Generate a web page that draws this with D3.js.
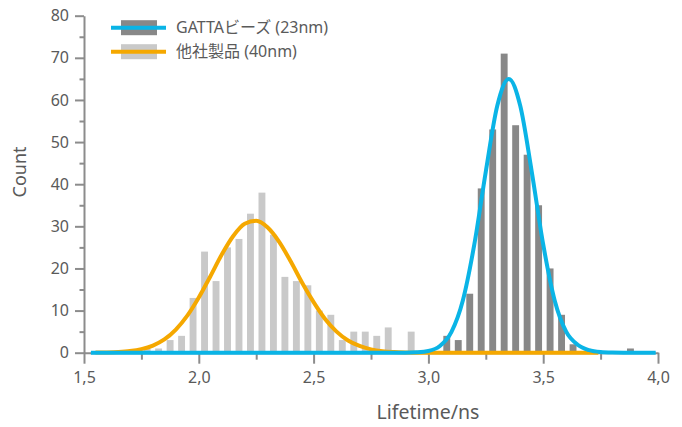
<!DOCTYPE html>
<html>
<head>
<meta charset="utf-8">
<script src="https://cdn.jsdelivr.net/npm/d3@7"></script>
<style>
  body { margin: 0; background: #fff; }
  text { font-family: "Noto Sans", "Noto Sans CJK JP", sans-serif; fill: #5a5a5a; }
</style>
</head>
<body>
<div id="chart"></div>
<script>
// histogram bins (bin centre, ns) and counts
var otherX = [1.775, 1.825, 1.875, 1.925, 1.975, 2.025, 2.075, 2.125, 2.175, 2.225, 2.275, 2.325,
              2.375, 2.425, 2.475, 2.525, 2.575, 2.625, 2.675, 2.725, 2.775, 2.825, 2.875, 2.925];
var otherCount = [1, 1, 3, 4, 13, 24, 17, 25, 27, 33, 38, 28,
                  18, 17, 16, 10, 9, 3, 5, 5, 4, 6, 0, 5];
var gattaX = [3.08, 3.13, 3.18, 3.23, 3.28, 3.33, 3.38, 3.43, 3.48, 3.53, 3.58, 3.63, 3.88];
var gattaCount = [4, 3, 14, 39, 53, 71, 54, 47, 35, 20, 9, 2, 1];

// fitted curves
var otherFitX = [1.55, 1.60, 1.65, 1.70, 1.75, 1.80, 1.85, 1.90, 1.95, 2.00, 2.05, 2.10, 2.15, 2.20,
                 2.25, 2.30, 2.35, 2.40, 2.45, 2.50, 2.55, 2.60, 2.65, 2.70, 2.75, 2.80, 2.85, 2.90,
                 2.95, 3.00, 3.74];
var otherFitY = [0.02, 0.06, 0.16, 0.38, 0.84, 1.7, 3.15, 5.5, 8.8, 13.1, 18.1, 23.3, 27.7, 30.6,
                 31.3, 29.7, 26.3, 21.7, 16.6, 12.0, 8.0, 5.0, 2.9, 1.6, 0.8, 0.35, 0.15, 0.05,
                 0, 0, 0];
var gattaFitX = [1.53, 2.90, 2.95, 3.00, 3.05, 3.10, 3.15, 3.20, 3.25, 3.30, 3.35, 3.40, 3.45,
                 3.50, 3.55, 3.60, 3.65, 3.70, 3.75, 3.80, 3.85, 3.99];
var gattaFitY = [0, 0, 0.09, 0.41, 1.6, 4.9, 12.4, 25.7, 43.0, 58.6, 65.0, 58.6, 43.0,
                 25.7, 12.4, 5.0, 1.9, 0.6, 0.15, 0.03, 0, 0];

var xMajor = [1.5, 2.0, 2.5, 3.0, 3.5, 4.0];
var xTickLabels = ["1,5", "2,0", "2,5", "3,0", "3,5", "4,0"];
var xMinor = [1.75, 2.25, 2.75, 3.25, 3.75];
var yMajor = [0, 10, 20, 30, 40, 50, 60, 70, 80];
var yMinor = [5, 15, 25, 35, 45, 55, 65, 75];

var legendNames = ["GATTAビーズ (23nm)", "他社製品 (40nm)"];

var w = 682, h = 427;
var blue = "#0ab4e6", orange = "#f5a800", darkBar = "#888888", lightBar = "#c9c9c9", axisCol = "#8c8c8c";

var svg = d3.select("#chart").append("svg")
    .attr("width", w).attr("height", h);

var x = d3.scaleLinear().domain([1.5, 4.0]).range([84, 658]);
var y = d3.scaleLinear().domain([0, 80]).range([352.7, 15.7]);

// axes
var gx = svg.append("g").attr("transform", "translate(0," + y(0) + ")");
gx.call(d3.axisBottom(x).tickValues(xMajor).tickSize(11).tickSizeOuter(0)
    .tickFormat(function(d, i) { return xTickLabels[i]; }));
gx.append("g").call(d3.axisBottom(x).tickValues(xMinor).tickSize(7).tickFormat(""))
    .select(".domain").remove();

var gy = svg.append("g").attr("transform", "translate(" + x(1.5) + ",0)");
gy.call(d3.axisLeft(y).tickValues(yMajor).tickSize(9).tickSizeOuter(0).tickPadding(6));
gy.append("g").call(d3.axisLeft(y).tickValues(yMinor).tickSize(4.5).tickFormat(""))
    .select(".domain").remove();

svg.selectAll(".domain, .tick line").attr("stroke", axisCol).attr("stroke-width", 2);
gx.selectAll(".tick text").attr("font-size", 16).attr("dy", "1.05em");
gy.selectAll(".tick text").attr("font-size", 16);

svg.append("text")
    .attr("transform", "translate(26,172) rotate(-90)")
    .attr("text-anchor", "middle")
    .attr("font-size", 18)
    .text("Count");

svg.append("text")
    .attr("x", 428).attr("y", 419)
    .attr("text-anchor", "middle")
    .attr("font-size", 19.5)
    .text("Lifetime/ns");

// bars
var bw = x(1.53) - x(1.5);
svg.append("g").selectAll("rect")
    .data(otherX)
    .enter().append("rect")
    .attr("x", function(d) { return x(d) - bw / 2; })
    .attr("width", bw)
    .attr("y", function(d, i) { return y(otherCount[i]); })
    .attr("height", function(d, i) { return y(0) - y(otherCount[i]); })
    .attr("fill", lightBar);

svg.append("g").selectAll("rect")
    .data(gattaX)
    .enter().append("rect")
    .attr("x", function(d) { return x(d) - bw / 2; })
    .attr("width", bw)
    .attr("y", function(d, i) { return y(gattaCount[i]); })
    .attr("height", function(d, i) { return y(0) - y(gattaCount[i]); })
    .attr("fill", darkBar);

// fit lines
var line = d3.line()
    .x(function(d) { return x(d[0]); })
    .y(function(d) { return y(d[1]); })
    .curve(d3.curveMonotoneX);

svg.append("path")
    .attr("d", line(d3.zip(otherFitX, otherFitY)))
    .attr("fill", "none").attr("stroke", orange).attr("stroke-width", 4);

svg.append("path")
    .attr("d", line(d3.zip(gattaFitX, gattaFitY)))
    .attr("fill", "none").attr("stroke", blue).attr("stroke-width", 4);

// legend
var legend = svg.append("g");
var legRows = [{bar: darkBar, line: blue}, {bar: lightBar, line: orange}];
legRows.forEach(function(r, i) {
    var cy = 27.7 + i * 24;
    legend.append("rect").attr("x", 121).attr("y", cy - 7.5).attr("width", 36).attr("height", 15).attr("fill", r.bar);
    legend.append("line").attr("x1", 111).attr("x2", 166).attr("y1", cy).attr("y2", cy)
        .attr("stroke", r.line).attr("stroke-width", 4);
    legend.append("text").attr("x", 176).attr("y", cy).attr("dy", "0.36em")
        .attr("font-size", 16).text(legendNames[i]);
});
</script>
</body>
</html>
